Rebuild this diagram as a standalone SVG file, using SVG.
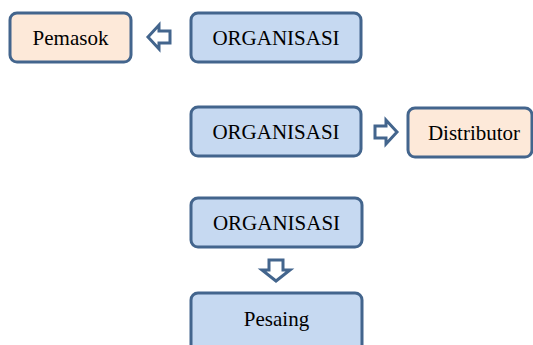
<svg xmlns="http://www.w3.org/2000/svg" width="533" height="345" viewBox="0 0 533 345">
  <style>
    .box { stroke: #43658d; stroke-width: 3; }
    .org { fill: #c6d9f1; }
    .ext { fill: #fde9d9; }
    .arrow { fill: #ffffff; stroke: #43658d; stroke-width: 3; stroke-linejoin: miter; }
    .label { font-family: "Liberation Serif", "Times New Roman", serif; font-size: 21px; fill: #000000; text-anchor: middle; }
  </style>
  <rect width="533" height="345" fill="#ffffff"/>

  <g id="pemasok">
    <rect class="box ext" x="10" y="13" width="121" height="49" rx="7"/>
    <text class="label" x="70.5" y="44.5">Pemasok</text>
  </g>
  <g id="organisasi-1">
    <rect class="box org" x="191" y="13" width="170" height="49" rx="7"/>
    <text class="label" x="276" y="44.5">ORGANISASI</text>
  </g>
  <g id="organisasi-2">
    <rect class="box org" x="191" y="107" width="170" height="49" rx="7"/>
    <text class="label" x="276" y="138.5">ORGANISASI</text>
  </g>
  <g id="distributor">
    <rect class="box ext" x="408" y="108" width="124" height="49" rx="7"/>
    <text class="label" x="474" y="139.5">Distributor</text>
  </g>
  <g id="organisasi-3">
    <rect class="box org" x="191" y="198" width="171" height="49" rx="7"/>
    <text class="label" x="276.5" y="229.5">ORGANISASI</text>
  </g>
  <g id="pesaing">
    <rect class="box org" x="191" y="293" width="171" height="60" rx="7"/>
    <text class="label" x="276.5" y="326">Pesaing</text>
  </g>

  <g id="connectors">
    <!-- left block arrow: ORGANISASI to Pemasok -->
    <polygon class="arrow" points="148,37 159,25 159,31 170,31 170,43 159,43 159,49"/>
    <!-- right block arrow: ORGANISASI to Distributor -->
    <polygon class="arrow" points="397,132 386,120 386,126 375,126 375,138 386,138 386,144"/>
    <!-- down block arrow: ORGANISASI to Pesaing -->
    <polygon class="arrow" points="276,281 262,270 269,270 269,260 283,260 283,270 290,270"/>
  </g>
</svg>
